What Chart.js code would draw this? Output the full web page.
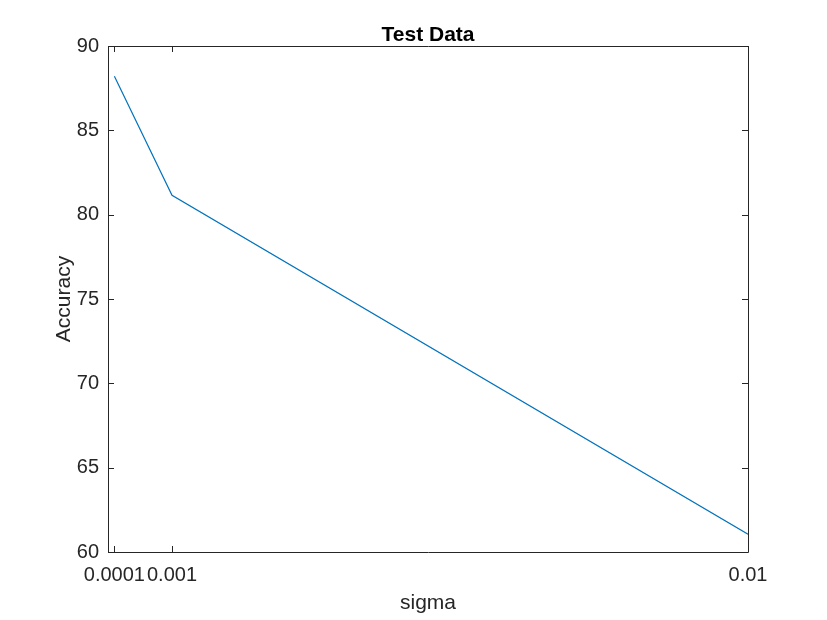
<!DOCTYPE html>
<html lang="en">
<head>
    <meta charset="UTF-8">
    <title>Test Data</title>
    <script src="https://cdn.jsdelivr.net/npm/chart.js"></script>
    <style>
        body { margin: 0; background: #fff; }
        #wrap { width: 827px; height: 620px; position: relative; }
    </style>
</head>
<body>
    <div id="wrap"><canvas id="lineChart"></canvas></div>

    <script>
        // values
        let sigma = [0.0001, 0.001, 0.01];
        let accuracy = [88.2, 81.15, 61.05];
        let xTickValues = [0.0001, 0.001, 0.01];
        let xTickLabels = ["0.0001", "0.001", "0.01"];
        let yTicks = [60, 65, 70, 75, 80, 85, 90];

        const axisColor = "#262626";
        const font = "Liberation Sans, Arial, sans-serif";

        // matlab style box with inward ticks + axis labels
        const matlabBox = {
            id: "matlabBox",
            afterDraw(chart) {
                let ctx = chart.ctx;
                let a = chart.chartArea;
                let xs = chart.scales.x, ys = chart.scales.y;
                let tl = 6;
                ctx.save();
                ctx.strokeStyle = axisColor;
                ctx.lineWidth = 1;
                ctx.beginPath();
                ctx.rect(Math.round(a.left) + 0.5, Math.round(a.top) + 0.5, Math.round(a.right - a.left), Math.round(a.bottom - a.top));
                xTickValues.forEach(v => {
                    let px = Math.round(xs.getPixelForValue(v)) + 0.5;
                    ctx.moveTo(px, a.bottom); ctx.lineTo(px, a.bottom - tl);
                    ctx.moveTo(px, a.top); ctx.lineTo(px, a.top + tl);
                });
                yTicks.forEach(v => {
                    let py = Math.round(ys.getPixelForValue(v)) + 0.5;
                    ctx.moveTo(a.left, py); ctx.lineTo(a.left + tl, py);
                    ctx.moveTo(a.right, py); ctx.lineTo(a.right - tl, py);
                });
                ctx.stroke();

                let cx = (a.left + a.right) / 2;
                ctx.fillStyle = "#000";
                ctx.textAlign = "center";
                ctx.textBaseline = "alphabetic";
                ctx.font = "bold 21px " + font;
                ctx.fillText("Test Data", cx, 41);

                ctx.fillStyle = axisColor;
                ctx.font = "21px " + font;
                ctx.fillText("sigma", cx, 609);

                ctx.translate(70, (a.top + a.bottom) / 2);
                ctx.rotate(-Math.PI / 2);
                ctx.fillText("Accuracy", 0, 0);
                ctx.restore();
            }
        };

        let ctx = document.getElementById("lineChart").getContext("2d");
        new Chart(ctx, {
            type: "line",
            data: {
                datasets: [{
                    data: sigma.map((s, i) => ({ x: s, y: accuracy[i] })),
                    borderColor: "#0072BD",
                    borderWidth: 1.2,
                    pointRadius: 0,
                    tension: 0,
                    fill: false
                }]
            },
            options: {
                responsive: true,
                maintainAspectRatio: false,
                animation: false,
                layout: { padding: { left: 0, top: 46, right: 79, bottom: 0 } },
                plugins: {
                    legend: { display: false },
                    tooltip: { enabled: false }
                },
                scales: {
                    x: {
                        type: "linear",
                        min: 0,
                        max: 0.01,
                        afterBuildTicks: scale => {
                            scale.ticks = xTickValues.map(v => ({ value: v }));
                        },
                        afterFit: scale => { scale.height = 68; },
                        grid: { display: false, drawTicks: false },
                        border: { display: false },
                        ticks: {
                            color: axisColor,
                            font: { family: font, size: 20 },
                            padding: 11,
                            maxRotation: 0,
                            autoSkip: false,
                            callback: value => {
                                let i = xTickValues.findIndex(v => Math.abs(v - value) < 1e-9);
                                return i >= 0 ? xTickLabels[i] : "";
                            }
                        }
                    },
                    y: {
                        min: 60,
                        max: 90,
                        afterBuildTicks: scale => {
                            scale.ticks = yTicks.map(v => ({ value: v }));
                        },
                        afterFit: scale => { scale.width = 108; },
                        grid: { display: false, drawTicks: false },
                        border: { display: false },
                        ticks: {
                            color: axisColor,
                            font: { family: font, size: 20 },
                            padding: 9
                        }
                    }
                }
            },
            plugins: [matlabBox]
        });
    </script>
</body>
</html>
